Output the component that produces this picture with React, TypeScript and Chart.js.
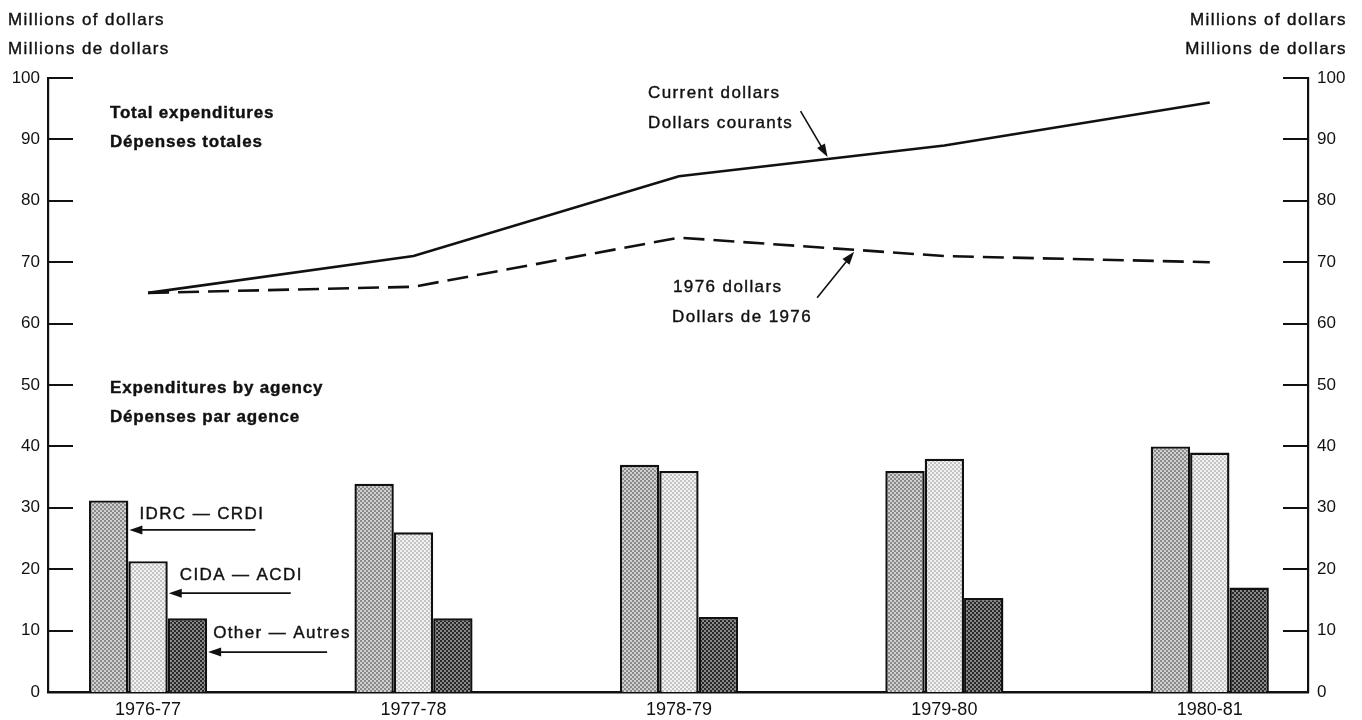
import { useEffect, useRef } from 'react';
import { Chart, registerables } from 'chart.js';

Chart.register(...registerables);

const categories = ['1976-77', '1977-78', '1978-79', '1979-80', '1980-81'];
const currentDollars = [65, 71, 84, 89, 96];
const constantDollars = [65, 66, 74, 71, 70];
const idrc = [31.2, 33.9, 37, 36, 40];
const cida = [21.3, 26, 36, 38, 39];
const other = [12, 12, 12.2, 15.3, 17];
const yTickValues = [0, 10, 20, 30, 40, 50, 60, 70, 80, 90, 100];

const FONT = '"Liberation Sans", Arial, Helvetica, sans-serif';
const INK = '#111111';

function makePattern(ctx: CanvasRenderingContext2D, dark: string, light: string) {
  const t = document.createElement('canvas');
  t.width = 4;
  t.height = 4;
  const g = t.getContext('2d')!;
  g.fillStyle = light;
  g.fillRect(0, 0, 4, 4);
  g.fillStyle = dark;
  g.fillRect(0, 0, 2, 2);
  g.fillRect(2, 2, 2, 2);
  return ctx.createPattern(t, 'repeat')!;
}

function text(ctx: CanvasRenderingContext2D, s: string, x: number, y: number, opts: { bold?: boolean; align?: CanvasTextAlign; spacing?: number } = {}) {
  ctx.save();
  ctx.font = `${opts.bold ? 'bold ' : ''}17px ${FONT}`;
  (ctx as any).letterSpacing = `${opts.spacing ?? (opts.bold ? 0.8 : 1.4)}px`;
  ctx.fillStyle = INK;
  ctx.strokeStyle = INK;
  ctx.lineWidth = 0.4;
  ctx.textAlign = opts.align ?? 'left';
  ctx.textBaseline = 'middle';
  ctx.fillText(s, x, y);
  ctx.strokeText(s, x, y);
  ctx.restore();
}

function arrow(ctx: CanvasRenderingContext2D, x1: number, y1: number, x2: number, y2: number) {
  const ang = Math.atan2(y2 - y1, x2 - x1);
  const len = 13;
  const hw = 4.5;
  ctx.save();
  ctx.strokeStyle = INK;
  ctx.fillStyle = INK;
  ctx.lineWidth = 1.6;
  ctx.beginPath();
  ctx.moveTo(x1, y1);
  ctx.lineTo(x2 - Math.cos(ang) * len * 0.8, y2 - Math.sin(ang) * len * 0.8);
  ctx.stroke();
  ctx.beginPath();
  ctx.moveTo(x2, y2);
  ctx.lineTo(x2 - Math.cos(ang) * len - Math.sin(ang) * hw, y2 - Math.sin(ang) * len + Math.cos(ang) * hw);
  ctx.lineTo(x2 - Math.cos(ang) * len + Math.sin(ang) * hw, y2 - Math.sin(ang) * len - Math.cos(ang) * hw);
  ctx.closePath();
  ctx.fill();
  ctx.restore();
}

const annotationPlugin = {
  id: 'annotations',
  afterDraw(chart: any) {
    const ctx: CanvasRenderingContext2D = chart.ctx;
    const area = chart.chartArea;
    const y = chart.scales.y;

    // inward tick marks on both axes
    ctx.save();
    ctx.strokeStyle = INK;
    ctx.lineWidth = 2;
    yTickValues.forEach((v) => {
      const py = Math.round(y.getPixelForValue(v));
      ctx.beginPath();
      ctx.moveTo(area.left, py);
      ctx.lineTo(area.left + 25, py);
      ctx.moveTo(area.right - 25, py);
      ctx.lineTo(area.right, py);
      ctx.stroke();
    });
    ctx.restore();

    // axis titles
    text(ctx, 'Millions of dollars', 8, 20);
    text(ctx, 'Millions de dollars', 8, 49);
    text(ctx, 'Millions of dollars', 1347, 20, { align: 'right' });
    text(ctx, 'Millions de dollars', 1347, 49, { align: 'right' });

    // section headings
    text(ctx, 'Total expenditures', 110, 113, { bold: true });
    text(ctx, 'Dépenses totales', 110, 142, { bold: true });
    text(ctx, 'Expenditures by agency', 110, 388, { bold: true });
    text(ctx, 'Dépenses par agence', 110, 417, { bold: true });

    // line labels with arrows pointing onto the lines
    const cur = chart.getDatasetMeta(3).data;
    const con = chart.getDatasetMeta(4).data;
    const f1 = 0.56;
    const tip1x = cur[2].x + (cur[3].x - cur[2].x) * f1;
    const tip1y = cur[2].y + (cur[3].y - cur[2].y) * f1;
    text(ctx, 'Current dollars', 648, 93);
    text(ctx, 'Dollars courants', 648, 123);
    arrow(ctx, tip1x - 27, tip1y - 48, tip1x, tip1y - 2);

    const f2 = 0.66;
    const tip2x = con[2].x + (con[3].x - con[2].x) * f2;
    const tip2y = con[2].y + (con[3].y - con[2].y) * f2;
    text(ctx, '1976 dollars', 673, 287);
    text(ctx, 'Dollars de 1976', 672, 317);
    arrow(ctx, tip2x - 37, tip2y + 48, tip2x, tip2y + 2);

    // agency labels with arrows pointing to the first group of bars
    const b0 = chart.getDatasetMeta(0).data[0];
    const b1 = chart.getDatasetMeta(1).data[0];
    const b2 = chart.getDatasetMeta(2).data[0];
    const ay0 = y.getPixelForValue(26.4);
    const ay1 = y.getPixelForValue(16.1);
    const ay2 = y.getPixelForValue(6.5);
    const e0 = b0.x + b0.width / 2 + 1;
    const e1 = b1.x + b1.width / 2 + 1;
    const e2 = b2.x + b2.width / 2 + 1;
    text(ctx, 'IDRC — CRDI', e0 + 10, ay0 - 16);
    arrow(ctx, e0 + 126, ay0, e0, ay0);
    text(ctx, 'CIDA — ACDI', e1 + 11, ay1 - 18);
    arrow(ctx, e1 + 122, ay1, e1, ay1);
    text(ctx, 'Other — Autres', e2 + 5, ay2 - 19);
    arrow(ctx, e2 + 119, ay2, e2, ay2);
  },
};

export default function App() {
  const ref = useRef<HTMLCanvasElement | null>(null);

  useEffect(() => {
    const canvas = ref.current!;
    const ctx = canvas.getContext('2d')!;
    const pIdrc = makePattern(ctx, '#8a8a8a', '#d0d0d0');
    const pCida = makePattern(ctx, '#c4c4c4', '#f2f2f2');
    const pOther = makePattern(ctx, '#282828', '#888888');

    const toXY = (arr: number[]) => arr.map((v, i) => ({ x: i, y: v }));
    const barCommon = {
      type: 'bar' as const,
      borderColor: INK,
      borderWidth: 2.4,
      borderSkipped: 'bottom' as const,
      categoryPercentage: 0.445,
      barPercentage: 1,
      yAxisID: 'y',
      order: 2,
    };

    const chart = new Chart(ctx, {
      type: 'bar',
      data: {
        datasets: [
          { ...barCommon, label: 'IDRC — CRDI', data: toXY(idrc), backgroundColor: pIdrc },
          { ...barCommon, label: 'CIDA — ACDI', data: toXY(cida), backgroundColor: pCida },
          { ...barCommon, label: 'Other — Autres', data: toXY(other), backgroundColor: pOther },
          {
            type: 'line',
            label: 'Current dollars',
            data: toXY(currentDollars),
            borderColor: INK,
            borderWidth: 2.6,
            pointRadius: 0,
            tension: 0,
            fill: false,
            yAxisID: 'y',
            order: 1,
          },
          {
            type: 'line',
            label: '1976 dollars',
            data: toXY(constantDollars),
            borderColor: INK,
            borderWidth: 2.6,
            borderDash: [21, 9],
            pointRadius: 0,
            tension: 0,
            fill: false,
            yAxisID: 'y',
            order: 1,
          },
        ] as any,
      },
      options: {
        responsive: false,
        animation: false,
        devicePixelRatio: 1,
        layout: { padding: { top: 78, left: 0, right: 0, bottom: 0 } },
        plugins: {
          legend: { display: false },
          tooltip: { enabled: false },
          title: { display: false },
        },
        scales: {
          x: {
            type: 'linear',
            offset: false,
            bounds: 'data',
            min: -0.377,
            max: 4.37,
            grid: { display: false, drawTicks: false, offset: false },
            border: { display: true, color: INK, width: 2.4 },
            afterBuildTicks: (s: any) => {
              s.ticks = categories.map((_, i) => ({ value: i }));
            },
            afterFit: (s: any) => {
              s.height = 28;
            },
            ticks: {
              autoSkip: false,
              maxRotation: 0,
              padding: 7,
              color: INK,
              font: { family: FONT, size: 18 },
              callback: (v: any) => categories[v as number] ?? '',
            },
          },
          y: {
            type: 'linear',
            position: 'left',
            min: 0,
            max: 100,
            grid: { display: false, drawTicks: false },
            border: { display: true, color: INK, width: 2.2 },
            afterFit: (s: any) => {
              s.width = 48;
            },
            ticks: {
              stepSize: 10,
              padding: 8,
              color: INK,
              font: { family: FONT, size: 17 },
            },
          },
          y2: {
            type: 'linear',
            position: 'right',
            min: 0,
            max: 100,
            grid: { display: false, drawTicks: false },
            border: { display: true, color: INK, width: 2.2 },
            afterFit: (s: any) => {
              s.width = 54;
            },
            ticks: {
              stepSize: 10,
              padding: 9,
              color: INK,
              font: { family: FONT, size: 17 },
            },
          },
        },
      },
      plugins: [annotationPlugin],
    });

    return () => chart.destroy();
  }, []);

  return (
    <div style={{ position: 'fixed', left: 0, top: 0, width: 1362, height: 720, background: '#fff' }}>
      <canvas ref={ref} width={1362} height={720} />
    </div>
  );
}
